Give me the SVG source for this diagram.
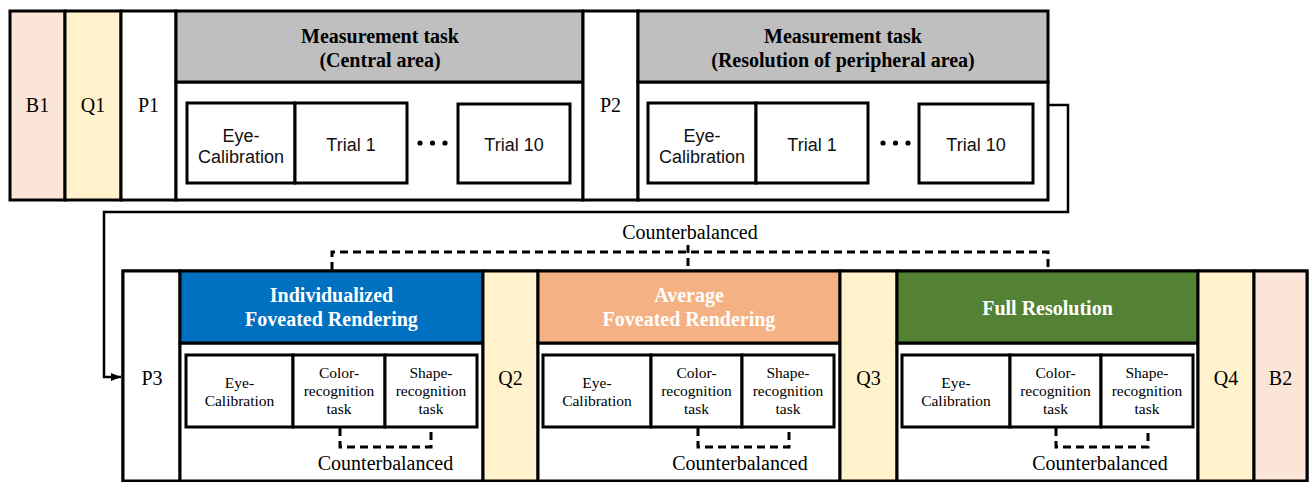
<svg xmlns="http://www.w3.org/2000/svg" width="1309" height="482" viewBox="0 0 1309 482">
  <defs>
    <style>
      .bx { stroke: #000; stroke-width: 3; }
      .w { fill: #fff; }
      .peach { fill: #FBE5D6; }
      .cream { fill: #FFF2CC; }
      .gray { fill: #BFBFBF; }
      .blue { fill: #0070C0; }
      .orange { fill: #F4B183; }
      .green { fill: #548235; }
      .lbl { font-family: "Liberation Serif", "Times New Roman", serif; font-size: 20px; text-anchor: middle; fill: #000; }
      .hd { font-family: "Liberation Serif", "Times New Roman", serif; font-size: 20px; font-weight: bold; text-anchor: middle; fill: #000; }
      .hdw { font-family: "Liberation Serif", "Times New Roman", serif; font-size: 20px; font-weight: bold; text-anchor: middle; fill: #fff; }
      .cell { font-family: "Liberation Sans", Arial, sans-serif; font-size: 18px; text-anchor: middle; fill: #111; }
      .task { font-family: "Liberation Serif", "Times New Roman", serif; font-size: 15.5px; text-anchor: middle; fill: #000; }
      .link { fill: none; stroke: #000; stroke-width: 2.5; }
      .dash { fill: none; stroke: #000; stroke-width: 3; stroke-dasharray: 8 5; }
    </style>
    <marker id="arrow" viewBox="0 0 10 10" refX="10" refY="5" markerWidth="10" markerHeight="10" markerUnits="userSpaceOnUse" orient="auto">
      <path d="M0,1 L10,5 L0,9 Z" fill="#000"/>
    </marker>
  </defs>

  <!-- ===== Session 1: baseline, questionnaire, measurement tasks ===== -->
  <g id="B1">
    <rect class="bx peach" x="10" y="11" width="55" height="189"/>
    <text class="lbl" x="37.5" y="112">B1</text>
  </g>
  <g id="Q1">
    <rect class="bx cream" x="65" y="11" width="56" height="189"/>
    <text class="lbl" x="93" y="112">Q1</text>
  </g>
  <g id="P1">
    <rect class="bx w" x="121" y="11" width="55" height="189"/>
    <text class="lbl" x="148.5" y="112">P1</text>
  </g>
  <g id="measure-central">
    <rect class="bx w" x="176" y="82" width="407" height="118"/>
    <rect class="bx gray" x="176" y="11" width="407" height="71"/>
    <text class="hd" x="380" y="43">Measurement task</text>
    <text class="hd" x="380" y="67">(Central area)</text>
    <rect class="bx w" x="187" y="103" width="108" height="80"/>
    <text class="cell" x="241" y="142">Eye-</text>
    <text class="cell" x="241" y="163">Calibration</text>
    <rect class="bx w" x="295" y="103" width="112" height="80"/>
    <text class="cell" x="351" y="151">Trial 1</text>
    <circle cx="420" cy="143" r="2.6"/>
    <circle cx="432.5" cy="143" r="2.6"/>
    <circle cx="445" cy="143" r="2.6"/>
    <rect class="bx w" x="458" y="104" width="112" height="79"/>
    <text class="cell" x="514" y="151">Trial 10</text>
  </g>
  <g id="P2">
    <rect class="bx w" x="583" y="11" width="55" height="189"/>
    <text class="lbl" x="610.5" y="112">P2</text>
  </g>
  <g id="measure-peripheral">
    <rect class="bx w" x="638" y="82" width="410" height="118"/>
    <rect class="bx gray" x="638" y="11" width="410" height="71"/>
    <text class="hd" x="843" y="43">Measurement task</text>
    <text class="hd" x="843" y="67">(Resolution of peripheral area)</text>
    <rect class="bx w" x="648" y="103" width="108" height="80"/>
    <text class="cell" x="702" y="142">Eye-</text>
    <text class="cell" x="702" y="163">Calibration</text>
    <rect class="bx w" x="756" y="103" width="112" height="80"/>
    <text class="cell" x="812" y="151">Trial 1</text>
    <circle cx="883" cy="143" r="2.6"/>
    <circle cx="895.5" cy="143" r="2.6"/>
    <circle cx="908" cy="143" r="2.6"/>
    <rect class="bx w" x="919" y="104" width="114" height="79"/>
    <text class="cell" x="976" y="151">Trial 10</text>
  </g>

  <!-- ===== Session 2: rendering conditions ===== -->
  <g id="session2-frame">
    <rect class="bx w" x="123" y="271" width="1184" height="210"/>
  </g>
  <g id="P3">
    <rect class="bx w" x="123" y="271" width="57" height="210"/>
    <text class="lbl" x="152" y="385">P3</text>
  </g>
  <g id="individualized-fr">
    <rect class="bx w" x="180" y="343" width="303" height="138"/>
    <rect class="bx blue" x="180" y="271" width="303" height="72"/>
    <text class="hdw" x="331.5" y="302">Individualized</text>
    <text class="hdw" x="331.5" y="326">Foveated Rendering</text>
    <rect class="bx w" x="186" y="355" width="107" height="72"/>
    <text class="task" x="239.5" y="388">Eye-</text>
    <text class="task" x="239.5" y="406">Calibration</text>
    <rect class="bx w" x="293" y="355" width="92" height="72"/>
    <text class="task" x="339" y="378">Color-</text>
    <text class="task" x="339" y="396">recognition</text>
    <text class="task" x="339" y="414">task</text>
    <rect class="bx w" x="385" y="355" width="92" height="72"/>
    <text class="task" x="431" y="378">Shape-</text>
    <text class="task" x="431" y="396">recognition</text>
    <text class="task" x="431" y="414">task</text>
    <path class="dash" d="M340 428 V447 H431 V428"/>
    <text class="lbl" x="385.5" y="470">Counterbalanced</text>
  </g>
  <g id="Q2">
    <rect class="bx cream" x="483" y="271" width="55" height="210"/>
    <text class="lbl" x="510.5" y="385">Q2</text>
  </g>
  <g id="average-fr">
    <rect class="bx w" x="538" y="343" width="302" height="138"/>
    <rect class="bx orange" x="538" y="271" width="302" height="72"/>
    <text class="hdw" x="689" y="302">Average</text>
    <text class="hdw" x="689" y="326">Foveated Rendering</text>
    <rect class="bx w" x="543" y="355" width="108" height="72"/>
    <text class="task" x="597" y="388">Eye-</text>
    <text class="task" x="597" y="406">Calibration</text>
    <rect class="bx w" x="651" y="355" width="91" height="72"/>
    <text class="task" x="696.5" y="378">Color-</text>
    <text class="task" x="696.5" y="396">recognition</text>
    <text class="task" x="696.5" y="414">task</text>
    <rect class="bx w" x="742" y="355" width="92" height="72"/>
    <text class="task" x="788" y="378">Shape-</text>
    <text class="task" x="788" y="396">recognition</text>
    <text class="task" x="788" y="414">task</text>
    <path class="dash" d="M698 428 V447 H789 V428"/>
    <text class="lbl" x="740" y="470">Counterbalanced</text>
  </g>
  <g id="Q3">
    <rect class="bx cream" x="840" y="271" width="57" height="210"/>
    <text class="lbl" x="868.5" y="385">Q3</text>
  </g>
  <g id="full-resolution">
    <rect class="bx w" x="897" y="343" width="301" height="138"/>
    <rect class="bx green" x="897" y="271" width="301" height="72"/>
    <text class="hdw" x="1047.5" y="315">Full Resolution</text>
    <rect class="bx w" x="902" y="355" width="108" height="72"/>
    <text class="task" x="956" y="388">Eye-</text>
    <text class="task" x="956" y="406">Calibration</text>
    <rect class="bx w" x="1010" y="355" width="91" height="72"/>
    <text class="task" x="1055.5" y="378">Color-</text>
    <text class="task" x="1055.5" y="396">recognition</text>
    <text class="task" x="1055.5" y="414">task</text>
    <rect class="bx w" x="1101" y="355" width="92" height="72"/>
    <text class="task" x="1147" y="378">Shape-</text>
    <text class="task" x="1147" y="396">recognition</text>
    <text class="task" x="1147" y="414">task</text>
    <path class="dash" d="M1056 428 V447 H1148 V428"/>
    <text class="lbl" x="1100" y="470">Counterbalanced</text>
  </g>
  <g id="Q4">
    <rect class="bx cream" x="1198" y="271" width="56" height="210"/>
    <text class="lbl" x="1226" y="385">Q4</text>
  </g>
  <g id="B2">
    <rect class="bx peach" x="1254" y="271" width="53" height="210"/>
    <text class="lbl" x="1280.5" y="385">B2</text>
  </g>

  <!-- ===== Connectors ===== -->
  <g id="connectors">
    <path class="link" d="M1048 105 H1068 V212 H104 V377 H121" marker-end="url(#arrow)"/>
    <path class="dash" d="M332 270 V252 H1048 V270"/>
    <path class="dash" d="M688 245 V270"/>
    <text class="lbl" x="690" y="239">Counterbalanced</text>
  </g>
</svg>
